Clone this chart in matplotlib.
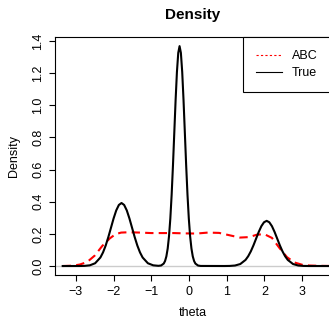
import matplotlib
matplotlib.use("Agg")
import matplotlib.pyplot as plt
from matplotlib.lines import Line2D

plt.rcParams['font.family'] = ['Liberation Sans', 'DejaVu Sans']

# values
true_x = [-3.35, -2.91, -2.77, -2.63, -2.49, -2.35, -2.28, -2.21, -2.14, -2.07, -2.00,
          -1.93, -1.86, -1.79, -1.72, -1.65, -1.58, -1.51, -1.44, -1.37, -1.30, -1.23,
          -1.09, -0.95, -0.81, -0.74, -0.67, -0.635, -0.60, -0.565, -0.53, -0.495, -0.46,
          -0.425, -0.39, -0.355, -0.32, -0.285, -0.25, -0.215, -0.18, -0.145, -0.11,
          -0.075, -0.04, -0.005, 0.03, 0.065, 0.10, 0.135, 0.17, 0.24, 0.31, 0.94, 1.08,
          1.22, 1.36, 1.50, 1.57, 1.64, 1.71, 1.78, 1.85, 1.92, 1.99, 2.06, 2.13, 2.20,
          2.27, 2.34, 2.41, 2.48, 2.55, 2.62, 2.76, 2.90, 3.04, 3.18, 3.9]
true_y = [0.0, 0.0001, 0.0009, 0.0044, 0.0172, 0.0530, 0.0848, 0.1273, 0.1795, 0.2377,
          0.2959, 0.3459, 0.3799, 0.392, 0.3799, 0.3459, 0.2959, 0.2377, 0.1795, 0.1273,
          0.0848, 0.0530, 0.0172, 0.0044, 0.0013, 0.0034, 0.0153, 0.0312, 0.0601, 0.1089,
          0.1851, 0.2959, 0.4442, 0.6263, 0.8297, 1.0326, 1.2073, 1.3259, 1.368, 1.3259,
          1.2073, 1.0326, 0.8297, 0.6263, 0.4442, 0.2959, 0.1851, 0.1089, 0.0601, 0.0312,
          0.0152, 0.0030, 0.0005, 0.0001, 0.0006, 0.0031, 0.0123, 0.0380, 0.0608, 0.0912,
          0.1286, 0.1704, 0.2121, 0.2480, 0.2723, 0.281, 0.2723, 0.2480, 0.2121, 0.1704,
          0.1286, 0.0912, 0.0608, 0.0380, 0.0123, 0.0031, 0.0006, 0.0001, 0.0]

abc_x = [-3.35, -3.1, -2.9, -2.7, -2.5, -2.3, -2.1, -1.95, -1.8, -1.6, -1.3, -1.0, -0.7,
         -0.4, -0.1, 0.2, 0.5, 0.8, 1.1, 1.35, 1.6, 1.8, 2.0, 2.2, 2.4, 2.6, 2.8, 3.0,
         3.2, 3.5, 3.9]
abc_y = [0.0, 0.002, 0.009, 0.025, 0.065, 0.125, 0.172, 0.198, 0.208, 0.210, 0.208,
         0.205, 0.205, 0.205, 0.203, 0.202, 0.208, 0.206, 0.190, 0.177, 0.180, 0.195,
         0.198, 0.175, 0.112, 0.055, 0.022, 0.008, 0.003, 0.001, 0.0]

x_ticks = [-3, -2, -1, 0, 1, 2, 3]
y_ticks = [0.0, 0.2, 0.4, 0.6, 0.8, 1.0, 1.2, 1.4]

fig = plt.figure(figsize=(3.29, 3.2), dpi=100)
ax = fig.add_axes([0.1672, 0.1412, 0.8389, 0.7422])

ax.axhline(0, color='#CCCCCC', lw=1, zorder=1)
ax.plot(abc_x, abc_y, color='red', lw=1.5, dashes=(4, 2.5), zorder=2)
ax.plot(true_x, true_y, color='black', lw=1.5, zorder=3)

ax.set_xlim(-3.554, 3.767)
ax.set_ylim(-0.0547, 1.4227)
ax.set_xticks(x_ticks)
ax.set_xticklabels([f'\u2212{-t}' if t < 0 else str(t) for t in x_ticks])
ax.set_yticks(y_ticks)
ax.set_yticklabels([f'{t:.1f}' for t in y_ticks], rotation=90, va='center')
ax.tick_params(direction='out', length=4.3, width=0.8, labelsize=9, pad=3.5)
for s in ax.spines.values():
    s.set_linewidth(0.8)

ax.set_title('Density', fontsize=11, fontweight='bold', pad=13)
ax.set_xlabel('theta', fontsize=9, labelpad=7)
ax.set_ylabel('Density', fontsize=9, labelpad=9)

handles = [Line2D([], [], color='red', lw=0.8, dashes=(2, 2)),
           Line2D([], [], color='black', lw=0.8)]
leg = ax.legend(handles, ['ABC', 'True'], loc='upper right', bbox_to_anchor=(1, 1),
                borderaxespad=0, fontsize=9, fancybox=False, edgecolor='black',
                framealpha=1, borderpad=1.05, handlelength=2.1, handletextpad=0.8,
                labelspacing=0.36)
leg.get_frame().set_linewidth(0.8)

fig.savefig('out.png', dpi=100)
